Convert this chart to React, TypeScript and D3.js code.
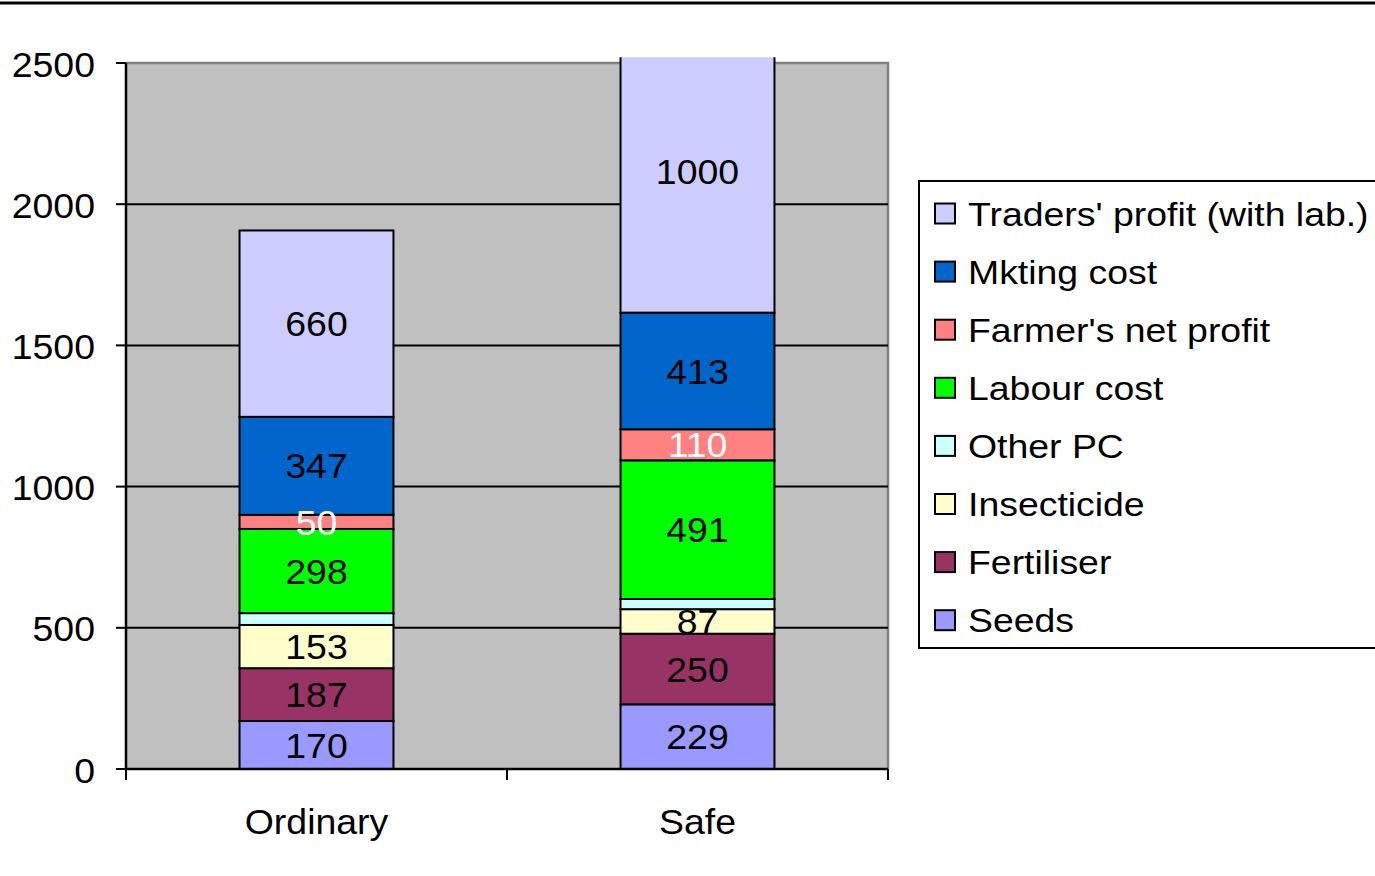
import React from 'react';
import * as d3 from 'd3';

const categories = ['Ordinary', 'Safe'];
const seriesNames = ['Seeds', 'Fertiliser', 'Insecticide', 'Other PC', 'Labour cost', "Farmer's net profit", 'Mkting cost', "Traders' profit (with lab.)"];
const seeds = [170, 229];
const fertiliser = [187, 250];
const insecticide = [153, 87];
const otherPC = [42, 36];
const labour = [298, 491];
const farmerProfit = [50, 110];
const mkting = [347, 413];
const traders = [660, 1000];
const yTicks = [0, 500, 1000, 1500, 2000, 2500];

const colors = ['#9999FF', '#993366', '#FFFFCC', '#CCFFFF', '#00FF00', '#FF8080', '#0066CC', '#CCCCFF'];
const labelColors = ['#000', '#000', '#000', '#000', '#000', '#fff', '#000', '#000'];
const showLabel = [true, true, true, false, true, true, true, true];

const W = 1375;
const H = 876;
const plot = { left: 126, right: 888, top: 63, bottom: 769 };
const font = '"Liberation Sans", Arial, sans-serif';

// text slightly stretched horizontally, like the original rendering
function T({ x, y, anchor = 'start', fill = '#000', size = 35, sx = 1.07, children }: any) {
  return (
    <text transform={`translate(${x},${y}) scale(${sx},1)`} dy="0.36em" textAnchor={anchor}
      fontSize={size} fill={fill}>
      {children}
    </text>
  );
}

export default function App() {
  const values = [seeds, fertiliser, insecticide, otherPC, labour, farmerProfit, mkting, traders];
  const rows = categories.map((c, i) => {
    const r: any = { cat: c };
    seriesNames.forEach((s, k) => (r[s] = values[k][i]));
    return r;
  });
  const stacked = d3.stack<any>().keys(seriesNames)(rows);

  const x = d3.scaleBand().domain(categories).range([plot.left, plot.right]);
  const y = d3.scaleLinear().domain([0, 2500]).range([plot.bottom, plot.top]);
  const barW = x.bandwidth() * 0.404;
  const clipTop = y(2520);

  const legendItems = seriesNames.map((s, k) => ({ s, k })).reverse();

  return (
    <svg width={W} height={H} style={{ position: 'absolute', left: 0, top: 0, fontFamily: font }}>
      <defs>
        <clipPath id="clip">
          <rect x={plot.left} y={clipTop} width={plot.right - plot.left} height={plot.bottom - clipTop} />
        </clipPath>
      </defs>
      <rect x={0} y={0} width={W} height={H} fill="#fff" />
      <line x1={0} x2={W} y1={3} y2={3} stroke="#000" strokeWidth={3} />
      <rect x={plot.left} y={plot.top} width={plot.right - plot.left} height={plot.bottom - plot.top} fill="#C0C0C0" />
      <polyline
        points={`${plot.left},${plot.top} ${plot.right},${plot.top} ${plot.right},${plot.bottom}`}
        fill="none" stroke="#808080" strokeWidth={2.5}
      />
      {yTicks.slice(1, -1).map(t => (
        <line key={t} x1={plot.left} x2={plot.right} y1={y(t)} y2={y(t)} stroke="#000" strokeWidth={2} />
      ))}
      <g clipPath="url(#clip)">
        {stacked.map((layer, k) =>
          layer.map((d, i) => {
            const cx = x(categories[i])! + x.bandwidth() / 2;
            return (
              <rect key={`${k}-${i}`} x={cx - barW / 2} y={y(d[1])} width={barW} height={y(d[0]) - y(d[1])}
                fill={colors[k]} stroke="#000" strokeWidth={2} />
            );
          })
        )}
      </g>
      {stacked.map((layer, k) =>
        showLabel[k]
          ? layer.map((d, i) => {
              const cx = x(categories[i])! + x.bandwidth() / 2;
              const cy = (y(d[1]) + y(d[0])) / 2;
              return (
                <T key={`l${k}-${i}`} x={cx} y={cy} anchor="middle" fill={labelColors[k]}>
                  {values[k][i]}
                </T>
              );
            })
          : null
      )}
      {/* y axis */}
      <line x1={plot.left} x2={plot.left} y1={plot.top} y2={plot.bottom} stroke="#000" strokeWidth={2.5} />
      {yTicks.map(t => (
        <g key={t}>
          <line x1={plot.left - 10} x2={plot.left} y1={y(t)} y2={y(t)} stroke="#000" strokeWidth={2} />
          <T x={plot.left - 31} y={y(t) + 1} anchor="end">{t}</T>
        </g>
      ))}
      {/* x axis */}
      <line x1={plot.left} x2={plot.right} y1={plot.bottom} y2={plot.bottom} stroke="#000" strokeWidth={2.5} />
      {[plot.left, ...categories.map(c => x(c)! + x.bandwidth())].map((px, i) => (
        <line key={i} x1={px} x2={px} y1={plot.bottom} y2={plot.bottom + 11} stroke="#000" strokeWidth={2} />
      ))}
      {categories.map(c => (
        <T key={c} x={x(c)! + x.bandwidth() / 2} y={821} anchor="middle">{c}</T>
      ))}
      {/* legend */}
      <rect x={919} y={181} width={470} height={467} fill="#fff" stroke="#000" strokeWidth={2} />
      {legendItems.map((it, j) => {
        const ly = 213.5 + j * 58.1;
        return (
          <g key={it.s}>
            <rect x={935} y={ly - 10} width={20} height={20} fill={colors[it.k]} stroke="#000" strokeWidth={2} />
            <T x={968} y={ly} size={34} sx={1.1}>{it.s}</T>
          </g>
        );
      })}
    </svg>
  );
}
